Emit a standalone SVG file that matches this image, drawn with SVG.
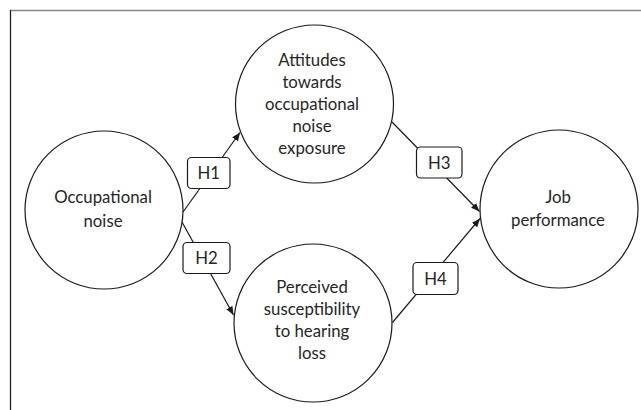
<svg xmlns="http://www.w3.org/2000/svg" width="641" height="410" viewBox="0 0 641 410">
<defs>
<style>
.node{fill:#fff;stroke:#1a1a1a;stroke-width:1.2}
.lbl{fill:#fff;stroke:#1a1a1a;stroke-width:1.2}
.t{font-family:Lato,"Liberation Sans",sans-serif;font-size:16.8px;fill:#262626;text-anchor:middle}
.edge{stroke:#1a1a1a;stroke-width:1.2;fill:none;marker-end:url(#ah)}
</style>
<marker id="ah" markerWidth="9" markerHeight="8" refX="8.5" refY="4" orient="auto" markerUnits="userSpaceOnUse">
<path d="M0,0.5 L8.5,4 L0,7.5 Z" fill="#1a1a1a"/>
</marker>
</defs>
<rect width="641" height="410" fill="#fff"/>
<line x1="10" y1="10.5" x2="641" y2="10.5" stroke="#888" stroke-width="1.5"/>
<line x1="10.5" y1="10" x2="10.5" y2="410" stroke="#222" stroke-width="1.3"/>
<g id="connectors">
<line class="edge" x1="183" y1="212" x2="240" y2="132.5"/>
<line class="edge" x1="182" y1="222" x2="233.5" y2="315"/>
<line class="edge" x1="392" y1="122" x2="479.5" y2="211.5"/>
<line class="edge" x1="392.5" y1="322.5" x2="480" y2="218.5"/>
</g>
<g id="n-noise">
<circle class="node" cx="104" cy="210" r="79"/>
<text class="t" x="103" y="203">Occupational</text>
<text class="t" x="103" y="227">noise</text>
</g>
<g id="n-attitudes">
<circle class="node" cx="314.5" cy="104" r="79"/>
<text class="t" x="312" y="66">Attitudes</text>
<text class="t" x="312" y="88">towards</text>
<text class="t" x="312" y="110">occupational</text>
<text class="t" x="312" y="132">noise</text>
<text class="t" x="312" y="154">exposure</text>
</g>
<g id="n-perceived">
<circle class="node" cx="313" cy="323" r="79"/>
<text class="t" x="312" y="292.5">Perceived</text>
<text class="t" x="312" y="314.5">susceptibility</text>
<text class="t" x="312" y="336.5">to hearing</text>
<text class="t" x="312" y="358.5">loss</text>
</g>
<g id="n-job">
<circle class="node" cx="559" cy="209" r="79"/>
<text class="t" x="558" y="203">Job</text>
<text class="t" x="558" y="225.5">performance</text>
</g>
<g id="h1">
<rect class="lbl" x="187.5" y="157.5" width="42.5" height="31" rx="4"/>
<text class="t" x="208.7" y="179">H1</text>
</g>
<g id="h2">
<rect class="lbl" x="183" y="242.5" width="47" height="31" rx="4"/>
<text class="t" x="206.5" y="264">H2</text>
</g>
<g id="h3">
<rect class="lbl" x="416.5" y="147" width="45.5" height="31" rx="4"/>
<text class="t" x="439.3" y="168.5">H3</text>
</g>
<g id="h4">
<rect class="lbl" x="413" y="262.5" width="45" height="32" rx="4"/>
<text class="t" x="435.5" y="284.5">H4</text>
</g>
</svg>
